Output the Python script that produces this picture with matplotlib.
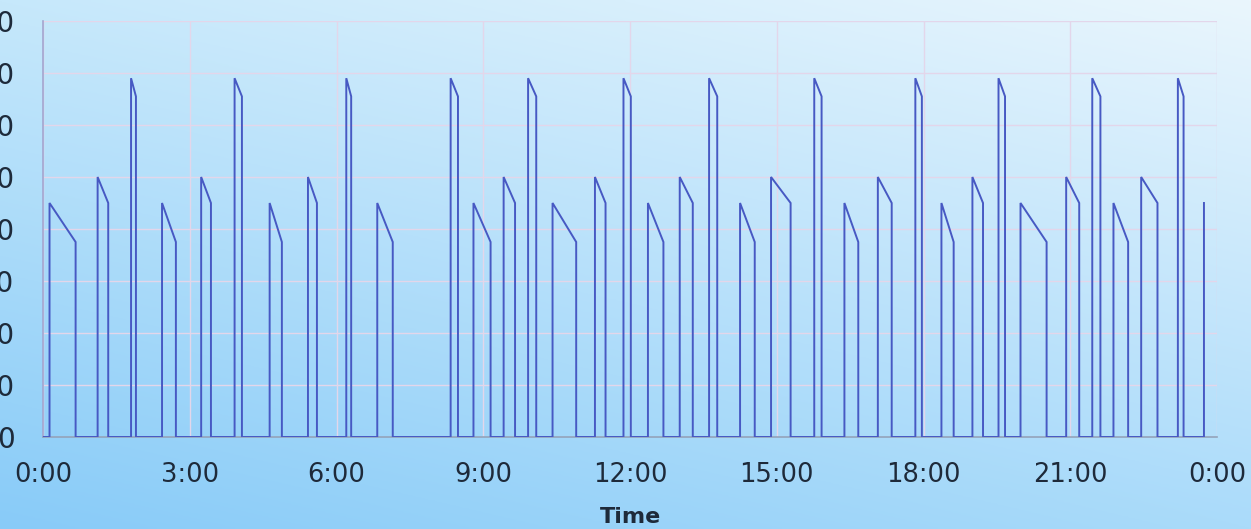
import numpy as np
import matplotlib
matplotlib.use("Agg")
import matplotlib.pyplot as plt
from matplotlib.ticker import FixedLocator, FuncFormatter

# Compressor cycles over one day: switch-on / switch-off clock times
cycle_on = ["0:08", "1:07", "1:48", "2:26", "3:14", "3:55", "4:38", "5:25", "6:12",
            "6:50", "8:20", "8:48", "9:25", "9:55", "10:25", "11:17", "11:52", "12:22",
            "13:01", "13:37", "14:15", "14:53", "15:46", "16:23", "17:04", "17:50",
            "18:22", "19:00", "19:32", "19:59", "20:55", "21:27", "21:53", "22:27", "23:12"]
cycle_off = ["0:40", "1:20", "1:54", "2:43", "3:26", "4:04", "4:53", "5:36", "6:18",
             "7:09", "8:29", "9:09", "9:39", "10:05", "10:54", "11:30", "12:01", "12:41",
             "13:17", "13:47", "14:33", "15:17", "15:55", "16:40", "17:21", "17:58",
             "18:37", "19:13", "19:40", "20:31", "21:11", "21:37", "22:11", "22:47", "23:19"]
# Power at switch-on and just before switch-off (W)
power_on = [450, 500, 690, 450, 500, 690, 450, 500, 690,
            450, 690, 450, 500, 690, 450, 500, 690, 450,
            500, 690, 450, 500, 690, 450, 500, 690,
            450, 500, 690, 450, 500, 690, 450, 500, 690]
power_off = [375, 450, 655, 375, 450, 655, 375, 450, 655,
             375, 655, 375, 450, 655, 375, 450, 655, 375,
             450, 655, 375, 450, 655, 375, 450, 655,
             375, 450, 655, 375, 450, 655, 375, 450, 655]
# Last logged sample of the day
last_time = "23:44"
last_power = 450

y_ticks = [0, 100, 200, 300, 400, 500, 600, 700, 800]
x_ticks = [0, 3, 6, 9, 12, 15, 18, 21, 24]


def to_hours(s):
    h, m = s.split(":")
    return int(h) + int(m) / 60.0


# Build the time series: 0 -> jump to start power -> decay -> drop to 0
t = [0.0]
p = [0.0]
for on, off, p0, p1 in zip(cycle_on, cycle_off, power_on, power_off):
    ton, toff = to_hours(on), to_hours(off)
    t += [ton, ton, toff, toff]
    p += [0, p0, p1, 0]
tl = to_hours(last_time)
t += [tl, tl]
p += [0, last_power]

W, H = 1251, 529
fig = plt.figure(figsize=(W / 100, H / 100), dpi=100)

# Soft diagonal blue gradient behind everything
bg = fig.add_axes([0, 0, 1, 1], zorder=0)
bg.set_axis_off()
tl_c = np.array([198, 232, 251]) / 255
tr_c = np.array([234, 246, 253]) / 255
bl_c = np.array([136, 203, 248]) / 255
br_c = np.array([170, 219, 250]) / 255
ny, nx = 200, 400
yy, xx = np.mgrid[0:1:ny * 1j, 0:1:nx * 1j]
img = ((1 - xx)[..., None] * (1 - yy)[..., None] * tl_c
       + xx[..., None] * (1 - yy)[..., None] * tr_c
       + (1 - xx)[..., None] * yy[..., None] * bl_c
       + xx[..., None] * yy[..., None] * br_c)
bg.imshow(img, aspect="auto", extent=[0, 1, 0, 1], origin="upper")

left, right, top, bottom = 43, 1217, 21, 437
ax = fig.add_axes([left / W, 1 - bottom / H, (right - left) / W, (bottom - top) / H], zorder=1)
ax.patch.set_alpha(0)

ax.plot(t, p, color="#4759c3", lw=1.4, solid_joinstyle="miter", zorder=3)

ax.set_xlim(0, 24)
ax.set_ylim(0, 800)
ax.xaxis.set_major_locator(FixedLocator(x_ticks))
ax.yaxis.set_major_locator(FixedLocator(y_ticks))
ax.xaxis.set_major_formatter(FuncFormatter(lambda v, _: f"{int(round(v)) % 24}:00"))
ax.yaxis.set_major_formatter(FuncFormatter(lambda v, _: f"{int(v)}"))

ax.grid(True, color="#e3d6ea", lw=1.0, zorder=1)
for s in ["top", "right"]:
    ax.spines[s].set_visible(False)
ax.spines["left"].set_color("#a3a5cf")
ax.spines["left"].set_linewidth(1.2)
ax.spines["bottom"].set_color("#93a3ba")
ax.spines["bottom"].set_linewidth(1.2)

ax.tick_params(axis="both", length=0, labelcolor="#1e2a3a")
ax.tick_params(axis="x", labelsize=18.5, pad=18)
ax.tick_params(axis="y", labelsize=20, pad=20.5)
for lab in ax.get_xticklabels() + ax.get_yticklabels():
    lab.set_family("DejaVu Sans")

ax.set_xlabel("Time", fontsize=16, fontweight="bold", family="DejaVu Sans",
              color="#1e2a3a", labelpad=14)

fig.savefig("out.png", dpi=100)
